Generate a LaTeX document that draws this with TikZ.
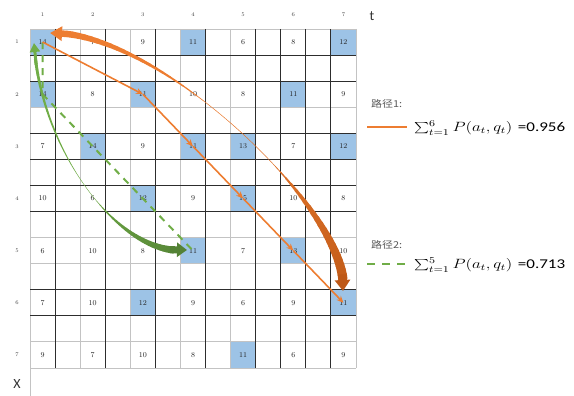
\documentclass[tikz,border=0pt]{standalone}
\usepackage{fontspec}
\usepackage{graphicx}
\newfontfamily\cjk{Noto Sans CJK SC}
\newfontfamily\carl{Carlito}
\usetikzlibrary{arrows.meta}
\definecolor{cellblue}{RGB}{157,195,230}
\definecolor{orA}{RGB}{237,125,49}
\definecolor{orB}{RGB}{190,88,22}
\definecolor{grA}{RGB}{112,173,71}
\definecolor{grB}{RGB}{84,130,53}
\definecolor{gridD}{RGB}{45,45,45}
\definecolor{gridL}{RGB}{195,195,195}
\def\cw{25.077}
\def\ch{26.077}
\def\cells{1/1/14/1,1/2/7/0,1/3/9/0,1/4/11/1,1/5/6/0,1/6/8/0,1/7/12/1,
2/1/14/1,2/2/8/0,2/3/11/1,2/4/10/0,2/5/8/0,2/6/11/1,2/7/9/0,
3/1/7/0,3/2/14/1,3/3/9/0,3/4/11/1,3/5/13/1,3/6/7/0,3/7/12/1,
4/1/10/0,4/2/6/0,4/3/12/1,4/4/9/0,4/5/15/1,4/6/10/0,4/7/8/0,
5/1/6/0,5/2/10/0,5/3/8/0,5/4/11/1,5/5/7/0,5/6/13/1,5/7/10/0,
6/1/7/0,6/2/10/0,6/3/12/1,6/4/9/0,6/5/6/0,6/6/9/0,6/7/11/1,
7/1/9/0,7/2/7/0,7/3/10/0,7/4/8/0,7/5/11/1,7/6/6/0,7/7/9/0}
\begin{document}
\begin{tikzpicture}[x=1pt,y=-1pt,
  num/.style={font=\fontsize{7.5}{8}\selectfont, text=black!85, inner sep=0pt},
  lab/.style={font=\fontsize{5.5}{6}\selectfont, text=black!75, inner sep=0pt},
  axlab/.style={font=\carl\fontsize{14}{16}\selectfont, text=black!80, inner sep=0pt},
  pathone/.style={orA, line width=1.6pt, -{Stealth[length=7pt,width=6pt]}},
  pathtwo/.style={grA, line width=2pt, dash pattern=on 7pt off 6pt},
  gl/.style={line width=0.9pt, gridL},
  gd/.style={line width=0.9pt, gridD},
  legcjk/.style={font=\cjk\fontsize{9.5}{10}\selectfont, text=black!65, inner sep=0pt, anchor=west},
  legmath/.style={font=\fontsize{12}{14}\selectfont, inner sep=0pt, anchor=west}]
\useasboundingbox (0,0) rectangle (574,396);
% blue cells
\foreach \r/\c/\v/\b in \cells {
  \ifnum\b=1
    \pgfmathsetmacro\xx{30+(2*\c-2)*\cw}
    \pgfmathsetmacro\yy{29+(2*\r-2)*\ch}
    \fill[cellblue] (\xx,\yy) rectangle ++(\cw,\ch);
  \fi
}
% grid
\foreach \k in {0,3,8,9,12,13} { \draw[gl] (30,{29+\k*\ch}) -- (356,{29+\k*\ch}); }
\foreach \k in {0,2,4,6,8,13} { \draw[gl] ({30+\k*\cw},29) -- ({30+\k*\cw},368); }
\foreach \k in {1,2,4,5,6,7,10,11} { \draw[gd] (30,{29+\k*\ch}) -- (356,{29+\k*\ch}); }
\foreach \k in {1,3,5,7,9,10,11,12} { \draw[gd] ({30+\k*\cw},29) -- ({30+\k*\cw},368); }
% axis
\coordinate (xbot) at (30,396);
\coordinate (gbot) at (30,368);
\draw[gl] (gbot) -- (xbot);
\node[axlab] (tlab) at (372,16) {t};
\node[axlab] (xlab) at (17,384) {X};
% numbers
\foreach \r/\c/\v/\b in \cells {
  \pgfmathsetmacro\xx{30+(2*\c-1.5)*\cw}
  \pgfmathsetmacro\yy{29+(2*\r-1.5)*\ch}
  \node[num] (n-\r-\c) at (\xx,\yy) {\v};
}
\foreach \i in {1,...,7} {
  \pgfmathsetmacro\xx{30+(2*\i-1.5)*\cw}
  \pgfmathsetmacro\yy{29+(2*\i-1.5)*\ch}
  \node[lab] (col\i) at (\xx,15) {\i};
  \node[lab] (row\i) at (17,\yy) {\i};
}
% ---------- orange tapered curve
\foreach \i in {0,...,60} {
  \pgfmathsetmacro\t{\i/60}
  \pgfmathsetmacro\xx{(1-\t)^3*343+3*(1-\t)^2*\t*352+3*(1-\t)*\t^2*160+\t^3*50}
  \pgfmathsetmacro\yy{(1-\t)^3*291+3*(1-\t)^2*\t*215+3*(1-\t)*\t^2*30+\t^3*33}
  \coordinate (o\i) at (\xx,\yy);
}
\foreach \i in {3,...,56} {
  \pgfmathtruncatemacro\j{\i+1}
  \pgfmathsetmacro\t{(\i+0.5)/60}
  \pgfmathsetmacro\a{max(0,1-\t/0.4)}
  \pgfmathsetmacro\b{max(0,(\t-0.6)/0.4)}
  \pgfmathsetmacro\w{0.5+9*sin(90*\a)+7*\b}
  \pgfmathtruncatemacro\m{min(100,100*\t/0.6)}
  \draw[line width=\w pt, line cap=round, orA!\m!orB] (o\i) -- (o\j);
}
\draw[orB, line width=8pt, -{Triangle[length=11pt,width=15pt]}] (o4) -- (o0);
\draw[orA, line width=6.5pt, -{Triangle[length=12pt,width=14pt]}] (o57) -- (o60);
% ---------- green tapered curve
\foreach \i in {0,...,60} {
  \pgfmathsetmacro\t{\i/60}
  \pgfmathsetmacro\xx{(1-\t)^3*187+3*(1-\t)^2*\t*120+3*(1-\t)*\t^2*40+\t^3*34}
  \pgfmathsetmacro\yy{(1-\t)^3*250+3*(1-\t)^2*\t*258+3*(1-\t)*\t^2*150+\t^3*43}
  \coordinate (g\i) at (\xx,\yy);
}
\foreach \i in {4,...,56} {
  \pgfmathtruncatemacro\j{\i+1}
  \pgfmathsetmacro\t{(\i+0.5)/60}
  \pgfmathsetmacro\a{max(0,1-\t/0.45)}
  \pgfmathsetmacro\b{max(0,(\t-0.55)/0.45)}
  \pgfmathsetmacro\w{0.4+8*\a+3*\b}
  \pgfmathtruncatemacro\m{min(100,100*\t/0.6)}
  \draw[line width=\w pt, line cap=round, grA!\m!grB] (g\i) -- (g\j);
}
\draw[grB, line width=7pt, -{Triangle[length=10pt,width=14pt]}] (g5) -- (g0);
\draw[grA, line width=3pt, -{Triangle[length=9pt,width=10pt]}] (g56) -- (g60);
% ---------- path 2 (dashed green)
\draw[pathtwo] (n-1-1.center) -- (n-2-1.center) -- (n-5-4.center);
% ---------- path 1 (orange)
\draw[pathone] (n-1-1.center) -- (n-2-3.center);
\draw[pathone] (n-2-3.center) -- (n-3-4.center);
\draw[pathone] (n-3-4.center) -- (n-4-5.center);
\draw[pathone] (n-4-5.center) -- (n-5-6.center);
\draw[pathone] (n-5-6.center) -- (n-6-7.center);
% ---------- legend
\node[legcjk] (leg1) at (371,104) {\scalebox{1.15}[1]{路径1:}};
\coordinate (l1a) at (367,127);
\coordinate (l1b) at (407,127);
\draw[orA, line width=2.5pt] (l1a) -- (l1b);
\node[legmath] (m1) at (414,128) {\scalebox{1.42}[1.12]{$\sum_{t=1}^{6} P(a_t,q_t)$ {\carl =0.956}}};
\node[legcjk] (leg2) at (371,245) {\scalebox{1.15}[1]{路径2:}};
\coordinate (l2a) at (367,264);
\coordinate (l2b) at (410,264);
\draw[grA, line width=2.5pt, dash pattern=on 8pt off 7pt] (l2a) -- (l2b);
\node[legmath] (m2) at (414,265) {\scalebox{1.42}[1.12]{$\sum_{t=1}^{5} P(a_t,q_t)$ {\carl =0.713}}};
\end{tikzpicture}
\end{document}
